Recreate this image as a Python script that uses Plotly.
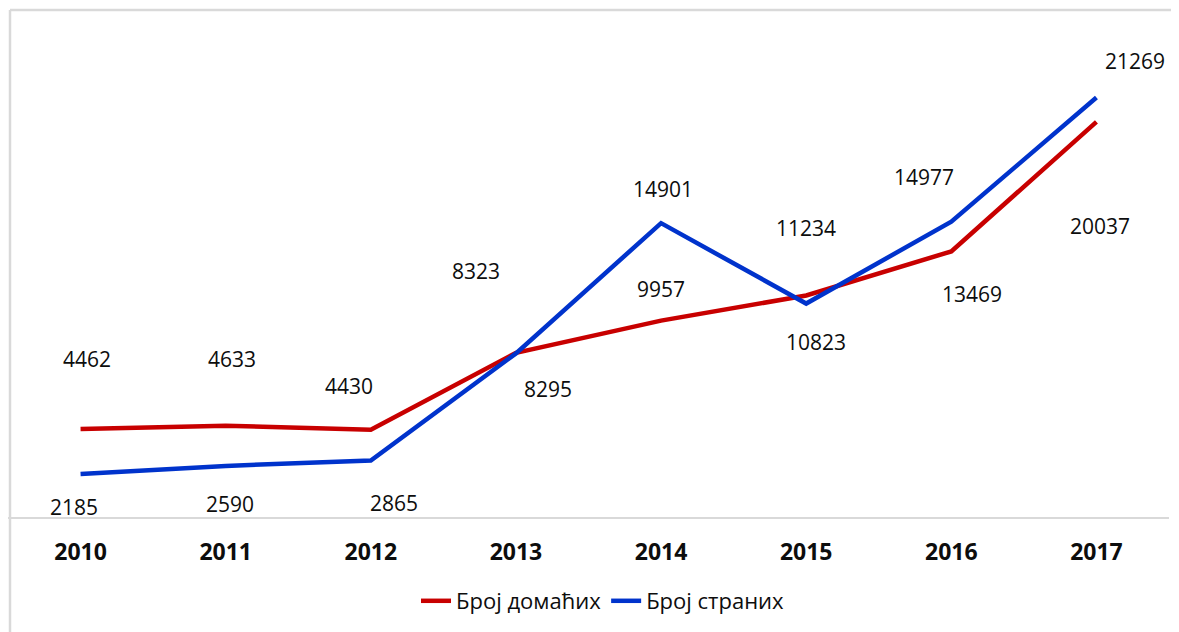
import plotly.graph_objects as go

years = ["2010", "2011", "2012", "2013", "2014", "2015", "2016", "2017"]
domestic = [4462, 4633, 4430, 8323, 9957, 11234, 13469, 20037]
foreign = [2185, 2590, 2865, 8295, 14901, 10823, 14977, 21269]
name_domestic = "Број домаћих"
name_foreign = "Број страних"

# label offsets (pixels) for data labels
dom_dx = [6, 6, -22, -40, 0, 0, 21, 4]
dom_dy = [70, 67, 44, 82, 32, 67, -43, -104]
for_dx = [-7, 4, 23, 32, 2, 10, -27, 39]
for_dy = [-33, -38, -42, -36, 34, -38, 45, 37]

RED = "#C80000"
BLUE = "#0033CC"
OFF = 8  # page body margin
W, H = 1179 - OFF, 632 - OFF
L, R, T, B = 0, 10, 16, 115
FONT = "Open Sans"

fig = go.Figure()
fig.add_trace(go.Scatter(x=years, y=domestic, mode="lines", name=name_domestic,
                         line=dict(color=RED, width=4.5), hoverinfo="x+y"))
fig.add_trace(go.Scatter(x=years, y=foreign, mode="lines", name=name_foreign,
                         line=dict(color=BLUE, width=4.5), hoverinfo="x+y"))

for series, dxs, dys in ((domestic, dom_dx, dom_dy), (foreign, for_dx, for_dy)):
    for i, (yv, dx, dy) in enumerate(zip(series, dxs, dys)):
        fig.add_annotation(x=i, y=yv, xref="x", yref="y", text=str(yv), showarrow=False,
                           xshift=dx, yshift=dy,
                           font=dict(family=FONT, size=21, color="#0d0d0d"))

pw = W - L - R
ph = H - T - B
def px_x(p):
    return (p - OFF - L) / pw
def px_y(p):
    return (H - B - (p - OFF)) / ph

shapes = [
    dict(type="line", xref="paper", yref="paper", x0=px_x(10), x1=px_x(1185),
         y0=px_y(10), y1=px_y(10), line=dict(color="#D9D9D9", width=2.5)),
    dict(type="line", xref="paper", yref="paper", x0=px_x(10), x1=px_x(10),
         y0=px_y(10), y1=px_y(640), line=dict(color="#D9D9D9", width=2.5)),
]

fig.update_layout(
    width=W, height=H,
    margin=dict(l=L, r=R, t=T, b=B),
    paper_bgcolor="white", plot_bgcolor="white",
    shapes=shapes,
    showlegend=True,
    legend=dict(orientation="h", x=px_x(603), xanchor="center", y=px_y(601), yanchor="middle",
                font=dict(family=FONT, size=22, color="#0d0d0d"),
                bgcolor="rgba(0,0,0,0)"),
    xaxis=dict(type="category", range=[-0.5, 7.5], showgrid=False, zeroline=False,
               showline=True, linecolor="#D9D9D9", linewidth=2, ticks="",
               ticklabelstandoff=13,
               tickfont=dict(family=FONT, size=23, color="#0d0d0d", weight="bold")),
    yaxis=dict(range=[0, 25000], showgrid=False, zeroline=False, showticklabels=False,
               showline=False, ticks=""),
)

fig.write_html("out.html")
